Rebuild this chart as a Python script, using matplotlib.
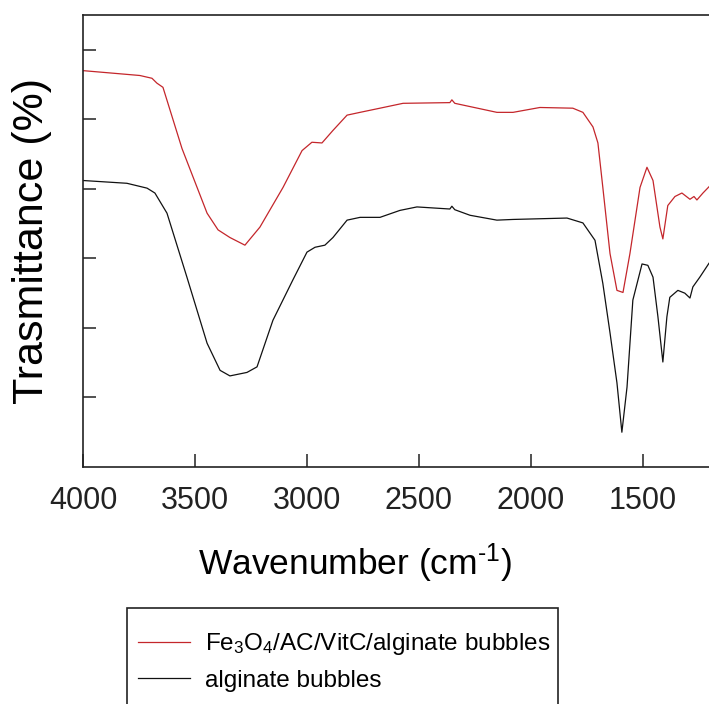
import matplotlib
matplotlib.use("Agg")
import matplotlib.pyplot as plt
from matplotlib.patches import Rectangle
import numpy as np

plt.rcParams['font.family'] = ['Liberation Sans', 'DejaVu Sans']
plt.rcParams['mathtext.fontset'] = 'custom'
plt.rcParams['mathtext.rm'] = 'Liberation Sans'
plt.rcParams['mathtext.it'] = 'Liberation Sans'

# spectra (wavenumber in cm-1, transmittance in arbitrary units)
wn_red = [4000, 3746, 3692, 3670, 3643, 3558, 3446, 3397, 3344, 3277, 3210, 3107,
          3022, 2978, 2933, 2884, 2821, 2763, 2674, 2571, 2362, 2353, 2340, 2152,
          2080, 1960, 1813, 1768, 1723, 1701, 1679, 1647, 1616, 1589, 1558, 1513,
          1482, 1455, 1424, 1411, 1389, 1357, 1326, 1290, 1272, 1259, 1232, 1205]
tr_red = [57.0, 56.3, 55.9, 55.2, 54.6, 45.8, 36.5, 34.1, 33.0, 31.9, 34.5, 40.2,
          45.5, 46.7, 46.6, 48.4, 50.6, 51.0, 51.6, 52.3, 52.4, 52.8, 52.3, 51.0,
          51.0, 51.7, 51.6, 51.0, 48.9, 46.6, 40.2, 30.7, 25.4, 25.1, 30.7, 40.2,
          43.1, 41.2, 34.5, 32.8, 37.6, 38.9, 39.4, 38.5, 38.9, 38.4, 39.4, 40.3]

wn_black = [4000, 3804, 3714, 3679, 3625, 3536, 3446, 3388, 3344, 3268, 3223, 3152,
            3063, 3000, 2964, 2920, 2884, 2821, 2763, 2674, 2585, 2509, 2362, 2353,
            2340, 2272, 2152, 2080, 1839, 1768, 1714, 1679, 1647, 1616, 1594, 1571,
            1545, 1504, 1478, 1455, 1433, 1411, 1393, 1380, 1344, 1313, 1290, 1277,
            1246, 1205]
tr_black = [41.2, 40.8, 40.1, 39.4, 36.5, 27.3, 17.8, 13.9, 13.1, 13.6, 14.4, 21.1,
            26.9, 30.9, 31.6, 31.9, 33.0, 35.5, 35.9, 35.9, 36.9, 37.4, 37.1, 37.5,
            37.0, 36.2, 35.5, 35.6, 35.8, 35.1, 32.6, 26.4, 19.3, 12.1, 5.0, 11.5,
            24.0, 29.2, 29.0, 27.3, 21.6, 15.1, 21.6, 24.4, 25.4, 25.0, 24.3, 25.9,
            27.3, 29.3]

label_red = r'Fe$_3$O$_4$/AC/VitC/alginate bubbles'
label_black = 'alginate bubbles'
xticks = [4000, 3500, 3000, 2500, 2000, 1500]
yticks = [10, 20, 30, 40, 50, 60]

fig = plt.figure(figsize=(7.09, 7.04), dpi=100)
ax = fig.add_axes([83 / 709, 1 - 467 / 704, 1 - 83 / 709, (467 - 15) / 704])

ax.plot(wn_red, tr_red, color='#c4262b', lw=0.9, label=label_red)
ax.plot(wn_black, tr_black, color='#111111', lw=0.9, label=label_black)

ax.set_xlim(4000, 1205)
ax.set_ylim(0, 65)
ax.set_xticks(xticks)
ax.set_yticks(yticks)
ax.set_yticklabels([])
ax.tick_params(direction='in', length=9.5, width=1.1, labelsize=22, pad=14,
               colors='#222222', top=False, right=False)
for side in ['left', 'bottom', 'top']:
    ax.spines[side].set_linewidth(1.2)
    ax.spines[side].set_color('#222222')
ax.spines['right'].set_visible(False)

ax.set_xlabel(r'Wavenumber (cm$^{\text{-1}}$)', fontsize=25.5)
ax.xaxis.set_label_coords(0.4345, -0.164)
ax.set_ylabel('Trasmittance (%)', fontsize=31)
ax.yaxis.set_label_coords(-0.05, 0.5)

# legend box runs off the bottom of the picture, so draw the frame by hand
fig.patches.append(Rectangle((127 / 709, -0.1), (558 - 127) / 709, 0.1 + 1 - 608 / 704,
                             transform=fig.transFigure, fill=False,
                             edgecolor='#222222', lw=1.2))
leg = fig.legend(loc='center left', bbox_to_anchor=(138 / 709, 1 - 661.5 / 704),
                 fontsize=17.5, frameon=False, borderaxespad=0, borderpad=0,
                 handlelength=2.14, handletextpad=0.62, labelspacing=0.53)

fig.savefig('out.png', dpi=100)
